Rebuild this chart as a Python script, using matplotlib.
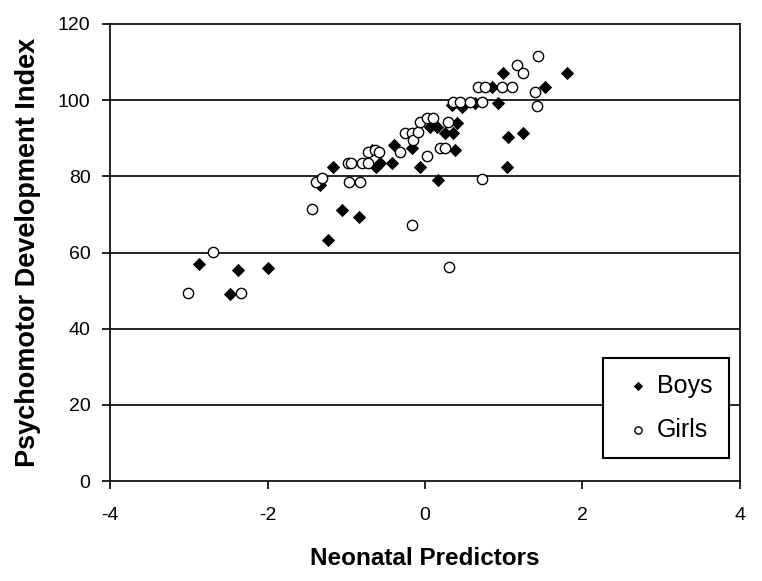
import matplotlib.pyplot as plt
import numpy as np

# ── Data ────────────────────────────────────────────────────────────
boys_x = [-2.87, -2.38, -2.48, -1.99, -1.23, -1.05, -0.84, -1.17, -1.33,
          -0.67, -0.57, -0.62, -0.42, -0.39, -0.17, -0.06, 0.17, 0.06,
          0.15, 0.25, 0.36, 0.41, 0.38, 0.34, 0.47, 0.64, 0.93, 0.85,
          0.99, 1.52, 1.80, 1.05, 1.24, 1.04]
boys_y = [57.0, 55.4, 49.1, 55.9, 63.3, 71.2, 69.3, 82.5, 77.7,
          86.9, 83.5, 82.5, 83.5, 88.2, 87.4, 82.5, 79.0, 93.0,
          93.0, 91.4, 91.4, 94.0, 86.9, 98.8, 98.2, 99.3, 99.3, 103.5,
          107.1, 103.5, 107.1, 90.3, 91.4, 82.5]

girls_x = [-3.01, -2.69, -2.34, -1.44, -1.38, -1.31, -0.98, -0.94, -0.80,
           -0.72, -0.97, -0.83, -0.72, -0.64, -0.58, -0.32, -0.25, -0.17,
           -0.15, -0.09, -0.06, 0.03, 0.10, 0.29, 0.19, 0.25, 0.03, -0.17,
           0.31, 0.72, 0.36, 0.44, 0.57, 0.72, 0.67, 0.76, 0.98, 1.11,
           1.17, 1.24, 1.44, 1.40, 1.42]
girls_y = [49.4, 60.1, 49.4, 71.4, 78.5, 79.6, 83.5, 83.5, 83.5,
           83.5, 78.5, 78.5, 86.4, 86.9, 86.4, 86.4, 91.4, 91.4,
           89.5, 91.6, 94.3, 95.3, 95.3, 94.3, 87.4, 87.4, 85.3, 67.2,
           56.2, 79.3, 99.5, 99.5, 99.5, 99.5, 103.5, 103.5, 103.5, 103.5,
           109.2, 107.1, 111.6, 102.2, 98.5]

# ── Plot ─────────────────────────────────────────────────────────────
plt.rcParams['font.family'] = ['Liberation Sans', 'DejaVu Sans']
plt.rcParams['axes.unicode_minus'] = False

fig = plt.figure(figsize=(7.62, 5.81), dpi=100)
ax = fig.add_axes([0.1444, 0.172, 0.8266, 0.7867])

# horizontal grid lines drawn first so markers sit on top
for yv in range(20, 120, 20):
    ax.axhline(yv, color='black', linewidth=1.2, zorder=1)

ax.scatter(boys_x, boys_y, marker='D', s=46, color='black',
           linewidths=0, zorder=3, label='Boys')
ax.scatter(girls_x, girls_y, marker='o', s=55, facecolor='white',
           edgecolor='black', linewidths=1.0, zorder=3, label='Girls')

# ── Labels & Formatting ──────────────────────────────────────────────
ax.set_xlim(-4, 4)
ax.set_ylim(0, 120)
ax.set_xticks(np.arange(-4, 5, 2))
ax.set_yticks(np.arange(0, 121, 20))
ax.tick_params(axis='both', direction='out', length=6, width=1.2,
               labelsize=14, colors='black')
ax.tick_params(axis='x', pad=13)
ax.tick_params(axis='y', pad=8)
for sp in ax.spines.values():
    sp.set_linewidth(1.2)
    sp.set_color('black')

ax.set_xlabel("Neonatal Predictors", fontsize=17.5, fontweight='bold',
              labelpad=16)
ax.set_ylabel("Psychomotor Development Index", fontsize=19.5,
              fontweight='bold', labelpad=12)

leg = ax.legend(loc='lower right', bbox_to_anchor=(0.9825, 0.05),
                borderaxespad=0, frameon=True, fancybox=False,
                edgecolor='black', framealpha=1, fontsize=18,
                markerscale=0.7, handletextpad=0.0, labelspacing=0.8,
                borderpad=0.65, handlelength=1.5)
leg.get_frame().set_linewidth(1.5)
leg.set_zorder(5)

fig.savefig('out.png', dpi=100)
